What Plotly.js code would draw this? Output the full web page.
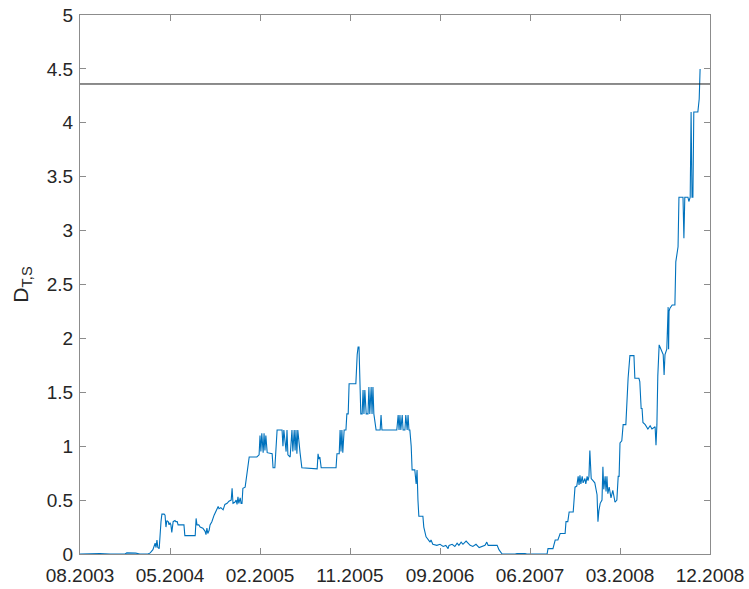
<!DOCTYPE html>
<html>
<head>
<meta charset="utf-8">
<script src="https://cdn.plot.ly/plotly-3.0.1.min.js"></script>
<style>
  html, body { margin: 0; padding: 0; background: #fff; }
  #chart { width: 749px; height: 589px; }
</style>
</head>
<body>
<div id="chart"></div>
<script>
// Observation index (trading days from 08.2003) and the statistic D_T,S
const day = [
  0, 44, 67, 100, 104, 116, 124, 133, 151, 156, 162, 167, 169, 171, 173, 176, 178, 180, 182, 187,
  189, 191, 193, 196, 198, 200, 202, 204, 207, 211, 213, 216, 218, 231, 233, 256, 258, 260, 264, 267,
  273, 278, 280, 282, 284, 287, 289, 293, 298, 302, 307, 309, 313, 318, 322, 327, 331, 336, 338, 340,
  344, 347, 349, 351, 353, 356, 358, 360, 362, 367, 371, 376, 393, 398, 400, 402, 404, 407, 409, 411,
  413, 416, 427, 429, 433, 438, 449, 451, 453, 456, 458, 460, 462, 467, 471, 473, 476, 478, 480, 482,
  484, 489, 493, 527, 529, 531, 533, 536, 569, 571, 576, 578, 580, 582, 584, 587, 591, 593, 596, 598,
  613, 616, 618, 620, 622, 624, 627, 629, 631, 633, 636, 640, 642, 644, 647, 649, 651, 653, 658, 667,
  669, 671, 704, 707, 709, 711, 713, 716, 718, 722, 724, 727, 729, 731, 733, 736, 738, 744, 747, 749,
  751, 753, 762, 764, 769, 773, 778, 780, 784, 793, 800, 807, 813, 818, 820, 827, 833, 838, 842, 847,
  851, 858, 862, 867, 873, 880, 887, 893, 900, 904, 907, 916, 927, 931, 938, 967, 971, 989, 993, 1038,
  1040, 1051, 1056, 1062, 1067, 1078, 1080, 1084, 1087, 1096, 1098, 1100, 1104, 1107, 1109, 1111, 1113, 1116, 1118, 1122,
  1124, 1127, 1129, 1131, 1133, 1136, 1140, 1144, 1149, 1151, 1153, 1156, 1160, 1162, 1164, 1167, 1169, 1171, 1173, 1176,
  1180, 1184, 1189, 1193, 1196, 1198, 1200, 1204, 1207, 1213, 1218, 1222, 1231, 1233, 1242, 1244, 1247, 1249, 1251, 1256,
  1262, 1267, 1271, 1278, 1280, 1282, 1284, 1287, 1291, 1296, 1298, 1300, 1304, 1307, 1308, 1309, 1311, 1316, 1322, 1324,
  1329, 1331, 1340, 1342, 1344, 1351, 1353, 1356, 1358, 1360, 1362, 1364, 1373, 1376, 1378
];
const dts = [
  0, 0.005, 0, 0, 0.01, 0.012, 0.008, 0, 0, 0.01, 0.04, 0.1, 0.06, 0.13, 0.06, 0.05, 0.2, 0.3, 0.37, 0.37,
  0.36, 0.25, 0.31, 0.3, 0.27, 0.29, 0.27, 0.2, 0.3, 0.31, 0.3, 0.3, 0.27, 0.27, 0.17, 0.17, 0.33, 0.27, 0.27, 0.25,
  0.24, 0.21, 0.18, 0.24, 0.19, 0.22, 0.27, 0.3, 0.36, 0.4, 0.44, 0.42, 0.43, 0.41, 0.46, 0.47, 0.49, 0.5, 0.61, 0.47,
  0.48, 0.5, 0.46, 0.53, 0.47, 0.52, 0.47, 0.47, 0.61, 0.62, 0.75, 0.9, 0.9, 0.92, 1.1, 0.95, 1.12, 0.94, 1.12, 0.96,
  1.1, 0.94, 0.93, 0.8, 0.8, 1.15, 1.15, 1.0, 1.15, 0.97, 0.95, 1.15, 0.92, 0.9, 1.15, 0.95, 1.15, 0.96, 1.15, 0.93,
  1.15, 0.94, 0.8, 0.79, 0.93, 0.88, 0.9, 0.8, 0.8, 0.93, 0.93, 1.15, 0.95, 1.15, 0.94, 1.15, 1.15, 1.3, 1.3, 1.58,
  1.58, 1.85, 1.92, 1.92, 1.7, 1.3, 1.3, 1.52, 1.3, 1.52, 1.3, 1.3, 1.55, 1.3, 1.55, 1.3, 1.55, 1.3, 1.15, 1.15,
  1.29, 1.15, 1.15, 1.29, 1.15, 1.29, 1.15, 1.29, 1.15, 1.15, 1.29, 1.15, 1.29, 1.15, 1.15, 1.0, 0.78, 0.78, 0.65, 0.78,
  0.5, 0.35, 0.35, 0.25, 0.16, 0.14, 0.11, 0.13, 0.09, 0.08, 0.09, 0.07, 0.08, 0.05, 0.08, 0.09, 0.07, 0.1, 0.08, 0.11,
  0.09, 0.12, 0.1, 0.08, 0.07, 0.09, 0.06, 0.07, 0.08, 0.11, 0.08, 0.08, 0.08, 0.04, 0, 0, 0.005, 0.005, 0, 0,
  0.05, 0.05, 0.13, 0.13, 0.19, 0.19, 0.3, 0.3, 0.39, 0.39, 0.5, 0.62, 0.63, 0.72, 0.64, 0.73, 0.65, 0.72, 0.66, 0.7,
  0.65, 0.72, 0.68, 0.72, 0.96, 0.7, 0.68, 0.66, 0.55, 0.3, 0.4, 0.47, 0.5, 0.81, 0.6, 0.72, 0.58, 0.72, 0.56, 0.62,
  0.52, 0.59, 0.48, 0.5, 0.72, 0.72, 1.03, 1.05, 1.2, 1.2, 1.63, 1.84, 1.84, 1.63, 1.63, 1.6, 1.35, 1.35, 1.22, 1.2,
  1.16, 1.19, 1.16, 1.18, 1.01, 1.2, 1.65, 1.94, 1.9, 1.85, 1.66, 1.85, 1.9, 2.29, 1.9, 2.25, 2.28, 2.31, 2.31, 2.71,
  2.85, 3.31, 3.31, 2.93, 3.31, 3.31, 3.27, 3.31, 4.10, 3.31, 3.31, 4.10, 4.10, 4.22, 4.5
];

// Critical value drawn as a horizontal reference line
const criticalValue = 4.36;

// Axis ticks
const tickDays = [0, 200, 400, 600, 800, 1000, 1200, 1400];
const tickLabels = ['08.2003', '05.2004', '02.2005', '11.2005', '09.2006', '06.2007', '03.2008', '12.2008'];
const yTicks = [0, 0.5, 1, 1.5, 2, 2.5, 3, 3.5, 4, 4.5, 5];

const axisGray = '#8c8c8c';
const textColor = '#262626';
const fontFamily = 'Liberation Sans, Arial, Helvetica, sans-serif';

const traces = [{
  x: day,
  y: dts,
  type: 'scatter',
  mode: 'lines',
  line: { color: '#0072BD', width: 1.1 },
  hoverinfo: 'skip'
}];

const layout = {
  width: 749,
  height: 589,
  margin: { l: 80, r: 39, t: 15, b: 35 },
  paper_bgcolor: '#ffffff',
  plot_bgcolor: '#ffffff',
  showlegend: false,
  font: { family: fontFamily, color: textColor, size: 19 },
  xaxis: {
    range: [0, 1400],
    tickvals: tickDays,
    ticktext: tickLabels,
    ticks: 'inside',
    ticklen: 6,
    tickwidth: 1,
    tickcolor: axisGray,
    showline: true,
    linecolor: axisGray,
    linewidth: 1,
    mirror: 'ticks',
    showgrid: false,
    zeroline: false,
    tickfont: { family: fontFamily, size: 19, color: textColor },
    ticklabelstandoff: 4
  },
  yaxis: {
    range: [0, 5],
    tickvals: yTicks,
    ticks: 'inside',
    ticklen: 6,
    tickwidth: 1,
    tickcolor: axisGray,
    showline: true,
    linecolor: axisGray,
    linewidth: 1,
    mirror: 'ticks',
    showgrid: false,
    zeroline: false,
    tickfont: { family: fontFamily, size: 19, color: textColor },
    ticklabelstandoff: 2,
    title: {
      text: 'D<sub>T,S</sub>',
      font: { family: fontFamily, size: 21, color: textColor },
      standoff: 12
    }
  },
  shapes: [{
    type: 'line',
    xref: 'paper',
    x0: 0,
    x1: 1,
    yref: 'y',
    y0: criticalValue,
    y1: criticalValue,
    line: { color: '#1a1a1a', width: 1 }
  }]
};

Plotly.newPlot('chart', traces, layout, { displayModeBar: false, staticPlot: true });
</script>
</body>
</html>
